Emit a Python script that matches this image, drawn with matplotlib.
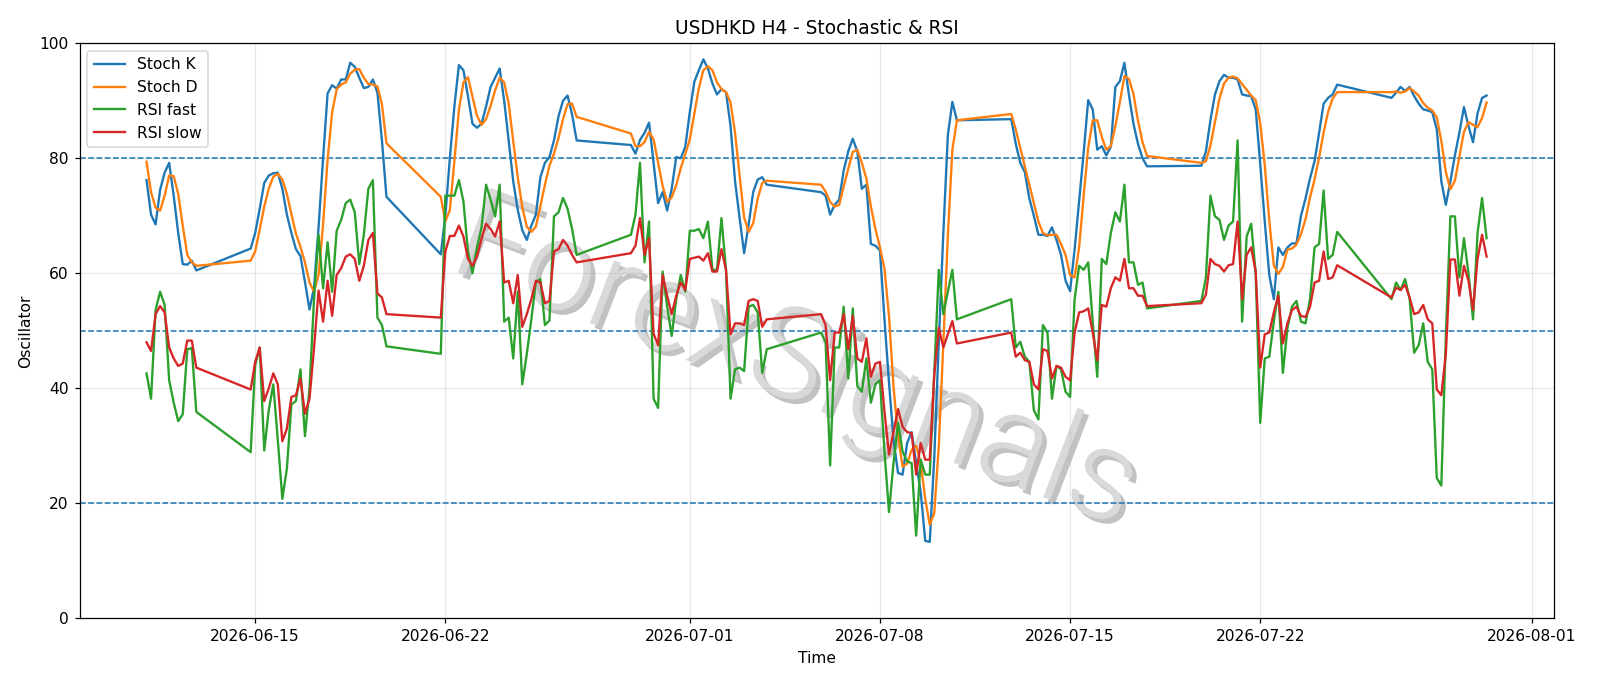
import numpy as np
import pandas as pd
import matplotlib
matplotlib.use("Agg")
import matplotlib.pyplot as plt
import matplotlib.patheffects as pe

# 4H bars, forex week: Sunday 20:00 bar, then Mon-Fri
start = "2026-06-11 00:00"
end = "2026-07-30 08:00"

stoch_k = [
    76.2, 70.2, 68.5, 74.5, 77.5, 79.2, 73.5, 67.0, 61.6, 61.5, 62.2, 60.5,
    64.3, 67.0, 71.2, 75.7, 77.0, 77.4, 77.5, 74.7, 70.2, 67.0, 64.2, 63.0, 58.5, 53.7, 57.5, 68.0, 80.0, 91.3, 92.7, 92.1, 93.7, 93.7, 96.6, 95.9, 94.0, 92.2, 92.4, 93.7, 91.4, 83.1, 73.3,
    63.3, 70.0, 80.0, 89.0, 96.2, 95.3, 90.8, 86.0, 85.3, 86.0, 89.0, 92.4, 94.0, 95.6, 90.0, 83.0, 76.0, 71.0, 67.5, 65.8, 68.3, 70.2, 76.7, 79.2, 80.2, 83.1, 87.3, 90.0, 90.9, 87.6, 83.1,
    82.3, 80.8, 83.2, 84.4, 86.2, 79.2, 72.2, 74.1, 70.9, 74.7, 80.2, 80.0, 82.0, 88.0, 93.3, 95.3, 97.2, 95.6, 93.0, 91.1, 92.0, 91.5, 85.6, 76.0, 69.6, 63.5, 68.5, 74.1, 76.3, 76.7, 75.4,
    74.1, 73.5, 70.2, 71.9, 72.8, 77.9, 81.2, 83.4, 81.2, 74.7, 75.4, 65.1, 64.8, 64.0, 52.0, 41.0, 31.0, 25.3, 25.0, 30.5, 32.4, 27.0, 22.0, 13.5, 13.3, 28.0, 48.0, 67.0, 84.0, 89.8, 86.6,
    86.8, 82.5, 79.2, 77.6, 73.0, 70.0, 66.7, 66.7, 66.5, 68.0, 65.8, 63.2, 58.7, 56.9, 64.2, 72.5, 81.0, 90.1, 88.5, 81.5, 82.1, 80.5, 82.0, 92.4, 93.4, 96.6, 91.0, 86.0, 82.5, 80.0, 78.6,
    78.7, 81.2, 86.6, 91.1, 93.4, 94.5, 94.0, 94.0, 93.7, 91.1, 90.9, 90.8, 88.5, 79.0, 69.0, 59.7, 55.5, 64.5, 63.2, 64.5, 65.2, 65.2, 70.0, 73.0, 76.5, 79.5, 84.4, 89.5, 90.5, 91.1, 92.8,
    90.5, 91.4, 92.4, 91.7, 92.4, 90.8, 89.5, 88.5, 88.3, 88.0, 85.0, 76.0, 71.9, 76.0, 80.5, 84.5, 88.9, 85.6, 82.8, 87.8, 90.5, 90.9,
]

stoch_d = [
    79.4, 74.1, 71.4, 70.9, 73.5, 77.0, 76.9, 73.8, 68.3, 63.2, 61.9, 61.3,
    62.2, 63.8, 67.6, 71.6, 74.7, 76.8, 77.3, 76.3, 73.8, 70.3, 66.9, 64.6, 61.9, 58.4, 56.8, 59.7, 68.5, 79.8, 88.0, 92.0, 92.8, 93.2, 94.7, 95.4, 95.5, 94.0, 92.9, 92.8, 92.5, 89.4, 82.6,
    73.3, 69.0, 71.0, 79.5, 88.4, 93.2, 94.1, 90.7, 87.4, 85.8, 86.8, 89.1, 91.8, 94.0, 93.2, 89.5, 83.0, 76.7, 71.5, 68.1, 67.2, 68.1, 71.7, 75.4, 78.7, 80.8, 83.5, 86.8, 89.4, 89.5, 87.2,
    84.3, 82.1, 82.1, 82.8, 84.6, 83.3, 79.2, 75.2, 72.4, 73.2, 75.3, 78.3, 80.7, 83.3, 87.8, 92.2, 95.3, 96.0, 95.3, 93.2, 92.0, 91.5, 89.7, 84.4, 77.1, 69.7, 67.2, 68.7, 73.0, 75.7, 76.1,
    75.4, 74.2, 72.4, 71.6, 71.9, 75.1, 78.2, 81.1, 81.5, 79.2, 76.5, 71.6, 67.7, 64.5, 60.8, 52.6, 40.3, 31.7, 26.4, 26.9, 29.3, 30.0, 27.1, 20.8, 16.3, 18.3, 30.0, 47.7, 66.5, 81.5, 86.6,
    87.7, 85.0, 81.8, 78.6, 75.4, 72.2, 69.0, 67.0, 66.6, 66.7, 66.7, 65.1, 63.2, 59.7, 59.3, 64.5, 73.5, 81.8, 86.6, 86.6, 83.7, 81.5, 82.1, 85.6, 89.8, 94.3, 93.8, 91.2, 86.5, 82.8, 80.4,
    79.2, 79.5, 82.2, 86.3, 90.4, 93.0, 94.0, 94.2, 93.9, 92.9, 91.9, 90.9, 90.1, 86.1, 78.8, 69.2, 61.4, 59.9, 61.1, 64.1, 64.3, 65.0, 66.8, 69.4, 73.2, 76.3, 80.1, 84.5, 88.1, 90.4, 91.5,
    91.5, 91.6, 91.4, 91.6, 92.2, 91.6, 90.9, 89.6, 88.8, 88.3, 87.1, 83.0, 77.6, 74.6, 76.1, 80.3, 84.6, 86.3, 85.8, 85.4, 87.0, 89.7,
]

rsi_fast = [
    42.6, 38.2, 53.6, 56.8, 54.5, 41.4, 37.5, 34.3, 35.5, 46.8, 47.0, 35.9,
    28.9, 44.0, 47.1, 29.2, 36.2, 40.7, 31.0, 20.8, 26.0, 37.2, 37.8, 43.3, 31.7, 40.0, 55.5, 66.7, 57.4, 65.4, 56.8, 67.4, 69.3, 72.2, 72.8, 70.6, 61.6, 66.7, 74.7, 76.2, 52.3, 51.0, 47.3,
    46.0, 73.5, 73.5, 73.5, 76.2, 72.5, 63.8, 60.0, 64.5, 68.0, 75.4, 72.8, 69.9, 75.4, 51.6, 52.3, 45.2, 56.8, 40.7, 46.0, 52.0, 58.5, 59.0, 51.0, 51.8, 69.9, 70.6, 73.1, 71.2, 67.7, 63.2,
    66.7, 70.2, 79.2, 61.9, 69.0, 38.2, 36.6, 60.3, 54.2, 49.1, 55.5, 59.7, 56.8, 67.4, 67.4, 67.7, 66.1, 69.0, 60.6, 60.6, 69.6, 60.6, 38.2, 43.3, 43.6, 43.0, 54.2, 54.5, 53.2, 42.7, 46.8,
    49.7, 48.0, 26.6, 47.1, 47.1, 54.2, 41.7, 53.9, 40.4, 39.4, 45.2, 37.5, 40.7, 41.4, 29.0, 18.5, 27.0, 34.0, 29.0, 27.3, 27.0, 14.4, 27.6, 25.0, 25.0, 43.0, 60.6, 52.9, 56.8, 60.6, 52.0,
    55.5, 47.1, 48.1, 45.5, 44.6, 36.2, 34.6, 51.0, 49.7, 38.2, 43.9, 43.3, 39.4, 38.5, 55.5, 61.3, 60.6, 61.9, 51.6, 42.0, 62.5, 61.6, 67.0, 70.6, 69.0, 75.4, 61.9, 61.9, 58.0, 58.4, 53.9,
    55.2, 59.3, 73.5, 69.9, 69.3, 65.8, 68.3, 69.0, 83.1, 51.6, 66.4, 68.6, 60.0, 34.0, 45.2, 45.5, 51.6, 56.8, 42.7, 50.4, 54.2, 55.2, 51.6, 51.3, 55.5, 64.5, 65.1, 74.4, 62.5, 63.2, 67.2,
    55.5, 58.4, 57.1, 59.0, 55.5, 46.2, 47.5, 51.3, 44.6, 43.3, 24.4, 23.1, 49.0, 69.9, 69.9, 59.3, 66.1, 60.0, 52.0, 67.0, 73.1, 66.1,
]

rsi_slow = [
    48.0, 46.5, 52.9, 54.3, 53.2, 47.1, 45.2, 43.9, 44.3, 48.3, 48.3, 43.6,
    39.8, 44.6, 47.1, 37.8, 40.0, 42.6, 40.7, 30.8, 33.0, 38.5, 38.8, 41.7, 35.6, 38.2, 47.0, 57.0, 51.6, 58.7, 52.6, 59.7, 60.9, 62.9, 63.3, 62.5, 58.7, 61.3, 65.8, 67.0, 56.5, 55.8, 52.9,
    52.3, 63.8, 66.5, 66.5, 68.3, 66.4, 62.5, 61.3, 62.9, 66.0, 68.6, 67.7, 66.4, 69.0, 58.4, 58.7, 54.8, 59.7, 50.7, 52.9, 55.5, 58.7, 58.4, 54.8, 55.2, 63.8, 64.2, 65.8, 64.8, 63.2, 61.9,
    63.5, 64.8, 69.6, 63.2, 66.1, 49.5, 47.5, 59.7, 56.1, 52.9, 56.1, 58.4, 57.1, 62.5, 62.7, 62.9, 62.2, 63.5, 60.3, 60.3, 64.2, 60.6, 49.4, 51.3, 51.3, 51.0, 55.2, 55.5, 55.2, 50.7, 52.0,
    52.9, 51.0, 41.4, 49.7, 49.7, 52.9, 46.8, 52.6, 45.2, 44.6, 48.7, 42.0, 44.3, 44.6, 36.0, 28.5, 32.4, 36.4, 33.3, 32.4, 32.2, 25.0, 30.5, 27.6, 27.6, 42.3, 50.5, 47.1, 49.4, 51.7, 47.8,
    49.7, 45.5, 46.2, 44.9, 44.6, 40.7, 39.8, 46.8, 46.5, 41.7, 43.9, 43.6, 42.0, 41.4, 49.7, 53.2, 53.4, 53.9, 49.7, 44.9, 54.5, 54.2, 57.4, 59.3, 58.7, 62.5, 57.4, 57.4, 56.1, 56.1, 54.3,
    54.8, 56.3, 62.5, 61.6, 61.3, 60.3, 61.4, 61.6, 69.0, 55.5, 63.2, 64.5, 60.3, 43.6, 49.4, 49.7, 53.2, 56.1, 47.8, 51.3, 53.6, 54.2, 52.6, 52.4, 54.2, 58.4, 58.7, 63.8, 59.0, 59.3, 61.4,
    55.8, 57.5, 57.1, 58.0, 55.8, 52.9, 53.2, 54.5, 52.0, 51.3, 39.8, 38.8, 46.0, 62.4, 62.4, 56.1, 61.3, 58.7, 53.6, 62.5, 66.7, 62.9,
]

levels = [20, 50, 80]

# trading timestamps
idx = pd.date_range(start, end, freq="4h")
keep = (idx.dayofweek < 5) | ((idx.dayofweek == 6) & (idx.hour == 20))
times = idx[keep]

df = pd.DataFrame({"k": stoch_k, "d": stoch_d, "fast": rsi_fast, "slow": rsi_slow}, index=times)

dpi = 112
fig, ax = plt.subplots(figsize=(1600 / dpi, 686 / dpi), dpi=dpi)
plt.subplots_adjust(left=0.0497, right=0.971, top=0.937, bottom=0.0985)

ax.plot(df.index, df["k"], label="Stoch K", color="tab:blue", zorder=3)
ax.plot(df.index, df["d"], label="Stoch D", color="tab:orange", zorder=3)
ax.plot(df.index, df["fast"], label="RSI fast", color="tab:green", zorder=3)
ax.plot(df.index, df["slow"], label="RSI slow", color="tab:red", zorder=3)

for lv in levels:
    ax.axhline(lv, linestyle="--", linewidth=1, color="tab:blue", zorder=2)

ax.set_ylim(0, 100)
ax.grid(True, alpha=0.3)
ax.set_title("USDHKD H4 - Stochastic & RSI")
ax.set_xlabel("Time")
ax.set_ylabel("Oscillator")
ax.legend(loc="upper left")

# watermark
ax.text(0.486, 0.44, "ForexSignals", transform=ax.transAxes, fontsize=82,
        family=["Roboto", "DejaVu Sans"], fontweight=300, color="#d9d9d9",
        rotation=-21, ha="center", va="center", zorder=1,
        path_effects=[pe.SimplePatchShadow(offset=(3, -3), shadow_rgbFace="#9a9a9a", alpha=0.6),
                      pe.Normal()])

fig.savefig("out.png", dpi=dpi)
